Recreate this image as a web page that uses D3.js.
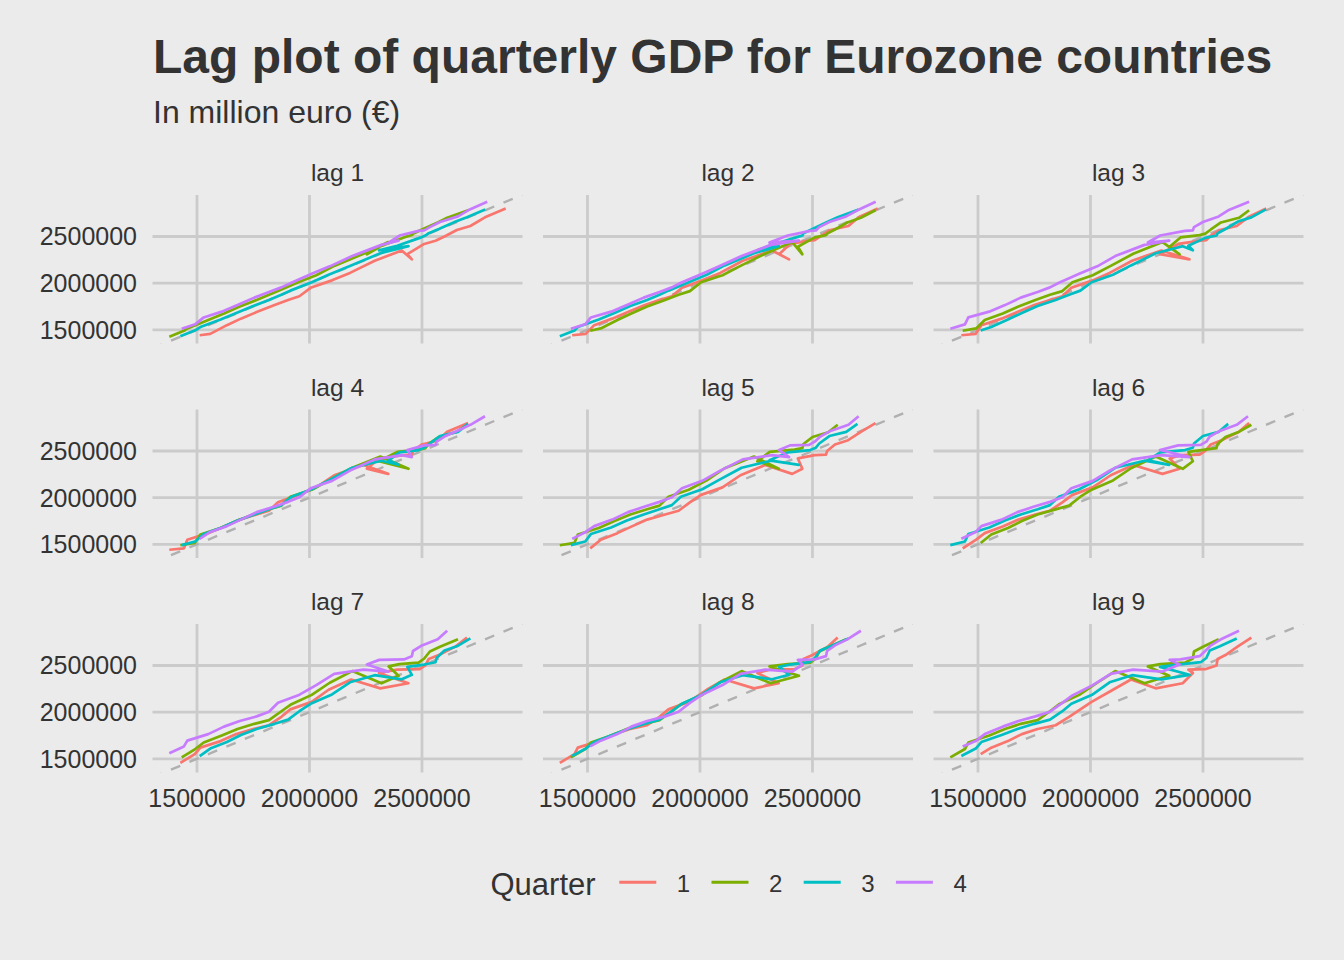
<!DOCTYPE html>
<html>
<head>
<meta charset="utf-8">
<script src="https://cdn.jsdelivr.net/npm/d3@7"></script>
<style>
  body { margin: 0; background: #ebebeb; }
  text { font-family: "Liberation Sans", Arial, Helvetica, sans-serif; }
</style>
</head>
<body>
<div id="chart"></div>
<script>
// quarterly GDP, euro area, million euro, 1995 Q1 .. 2018 Q1
const startYear = 1995;
const gdp = [
  1377000, 1426000, 1432000, 1512000,
  1442000, 1490000, 1492000, 1559000,
  1457000, 1515000, 1530000, 1633000,
  1550000, 1605000, 1610000, 1695000,
  1620000, 1675000, 1680000, 1765000,
  1690000, 1750000, 1755000, 1845000,
  1765000, 1820000, 1820000, 1905000,
  1820000, 1875000, 1875000, 1955000,
  1860000, 1915000, 1920000, 2005000,
  1950000, 2010000, 2010000, 2100000,
  2030000, 2085000, 2090000, 2180000,
  2110000, 2185000, 2190000, 2290000,
  2240000, 2315000, 2320000, 2410000,
  2350000, 2440000, 2396000, 2455000,
  2255000, 2309000, 2352000, 2435000,
  2310000, 2390000, 2400000, 2510000,
  2420000, 2490000, 2485000, 2560000,
  2455000, 2515000, 2510000, 2565000,
  2460000, 2530000, 2535000, 2600000,
  2500000, 2575000, 2580000, 2655000,
  2570000, 2650000, 2660000, 2715000,
  2612000, 2700000, 2705000, 2780000,
  2705000, 2781000, 2790000, 2872000,
  2799000
];
const lags = [1, 2, 3, 4, 5, 6, 7, 8, 9];
const quarters = ["1", "2", "3", "4"];
const quarterColors = ["#F8766D", "#7CAE00", "#00BFC4", "#C77CFF"];
const tickValues = [1500000, 2000000, 2500000];

const W = 1344, H = 960;
const panelW = 370, panelH = 148.5;
const colX = [152.5, 543, 933.5];
const rowY = [195, 409.5, 624];

const svg = d3.select("#chart").append("svg")
  .attr("width", W).attr("height", H)
  .style("background", "#ebebeb");

// scales shared by all facets (5% expansion like ggplot)
const n = gdp.length;
const xExt = d3.extent(gdp.slice(0, n - 1));
const yExt = d3.extent(gdp.slice(1));
const xPad = (xExt[1] - xExt[0]) * 0.05, yPad = (yExt[1] - yExt[0]) * 0.05;
const x = d3.scaleLinear().domain([xExt[0] - xPad, xExt[1] + xPad]).range([0, panelW]);
const y = d3.scaleLinear().domain([yExt[0] - yPad, yExt[1] + yPad]).range([panelH, 0]);

const line = d3.line().x(d => x(d[0])).y(d => y(d[1]));

// title
svg.append("text").attr("x", 153).attr("y", 73)
  .attr("font-size", 48).attr("font-weight", "bold").attr("fill", "#333333")
  .text("Lag plot of quarterly GDP for Eurozone countries");
svg.append("text").attr("x", 153).attr("y", 123)
  .attr("font-size", 32).attr("fill", "#333333")
  .text("In million euro (€)");

lags.forEach((k, i) => {
  const col = i % 3, row = Math.floor(i / 3);
  const g = svg.append("g").attr("transform", `translate(${colX[col]},${rowY[row]})`);

  const clipId = "clip" + k;
  g.append("clipPath").attr("id", clipId)
    .append("rect").attr("width", panelW).attr("height", panelH);

  // grid
  g.selectAll(".vg").data(tickValues).enter().append("line")
    .attr("x1", d => x(d)).attr("x2", d => x(d))
    .attr("y1", 0).attr("y2", panelH)
    .attr("stroke", "#cbcbcb").attr("stroke-width", 2.8);
  g.selectAll(".hg").data(tickValues).enter().append("line")
    .attr("x1", 0).attr("x2", panelW)
    .attr("y1", d => y(d)).attr("y2", d => y(d))
    .attr("stroke", "#cbcbcb").attr("stroke-width", 2.8);

  const inner = g.append("g").attr("clip-path", `url(#${clipId})`);

  // y = x reference
  const lo = Math.min(x.domain()[0], y.domain()[0]), hi = Math.max(x.domain()[1], y.domain()[1]);
  inner.append("line")
    .attr("x1", x(lo)).attr("y1", y(lo)).attr("x2", x(hi)).attr("y2", y(hi))
    .attr("stroke", "#b0b0b0").attr("stroke-width", 2.4)
    .attr("stroke-dasharray", "10,10");

  // one path per quarter
  quarters.forEach((q, qi) => {
    const pts = [];
    for (let t = k; t < n; t++) {
      if (t % 4 === qi) pts.push([gdp[t - k], gdp[t]]);
    }
    inner.append("path")
      .attr("d", line(pts))
      .attr("fill", "none")
      .attr("stroke", quarterColors[qi])
      .attr("stroke-width", 2.7)
      .attr("stroke-linejoin", "round");
  });

  // strip label
  g.append("text").attr("x", panelW / 2).attr("y", -14)
    .attr("text-anchor", "middle").attr("font-size", 24.5).attr("fill", "#333333")
    .text("lag " + k);

  // y axis labels on first column
  if (col === 0) {
    g.selectAll(".yl").data(tickValues).enter().append("text")
      .attr("x", -15.5).attr("y", d => y(d)).attr("dy", "0.36em")
      .attr("text-anchor", "end").attr("font-size", 25).attr("fill", "#333333")
      .text(d => d3.format("d")(d));
  }
  // x axis labels on bottom row
  if (row === 2) {
    g.selectAll(".xl").data(tickValues).enter().append("text")
      .attr("x", d => x(d)).attr("y", panelH + 34)
      .attr("text-anchor", "middle").attr("font-size", 25).attr("fill", "#333333")
      .text(d => d3.format("d")(d));
  }
});

// legend
const legend = svg.append("g");
legend.append("text").attr("x", 490.5).attr("y", 895)
  .attr("font-size", 31).attr("fill", "#333333").text("Quarter");
quarters.forEach((q, qi) => {
  const lx = 619.3 + qi * 92.2;
  legend.append("line")
    .attr("x1", lx).attr("x2", lx + 37).attr("y1", 882.3).attr("y2", 882.3)
    .attr("stroke", quarterColors[qi]).attr("stroke-width", 3);
  legend.append("text").attr("x", lx + 57.5).attr("y", 891.7)
    .attr("font-size", 24).attr("fill", "#333333").text(q);
});
</script>
</body>
</html>
